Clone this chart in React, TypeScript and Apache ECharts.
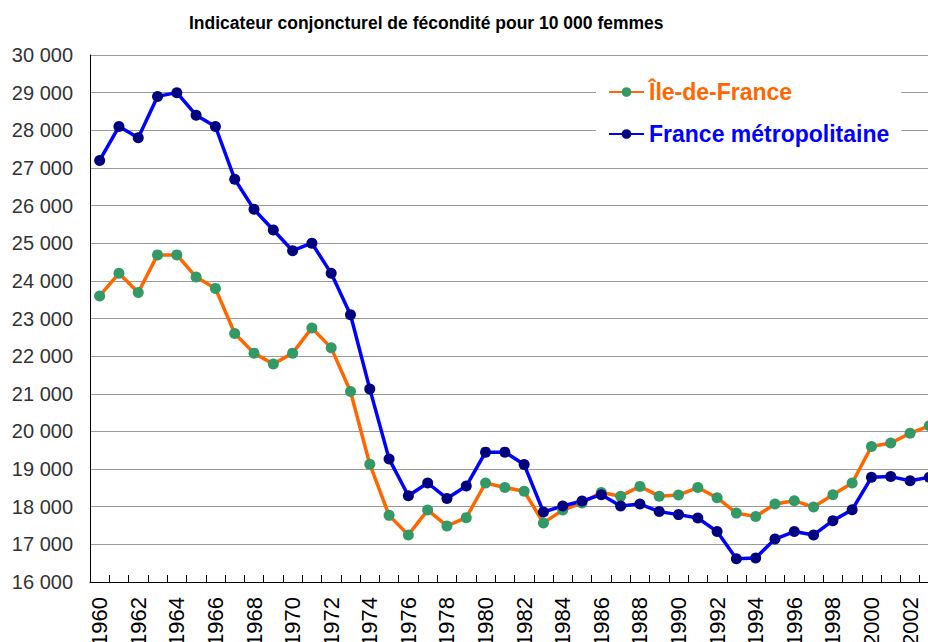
import React, { useEffect, useRef } from "react";
import * as echarts from "echarts";

const years = [
  "1960","1961","1962","1963","1964","1965","1966","1967","1968","1969",
  "1970","1971","1972","1973","1974","1975","1976","1977","1978","1979",
  "1980","1981","1982","1983","1984","1985","1986","1987","1988","1989",
  "1990","1991","1992","1993","1994","1995","1996","1997","1998","1999",
  "2000","2001","2002","2003",
];

const ileDeFrance = [
  23600, 24200, 23690, 24690, 24690, 24100, 23800, 22600, 22080, 21790,
  22080, 22750, 22220, 21060, 19130, 17770, 17250, 17910, 17490, 17710,
  18630, 18510, 18410, 17570, 17910, 18100, 18380, 18280, 18540, 18280,
  18310, 18510, 18240, 17830, 17740, 18070, 18160, 17990, 18320, 18630,
  19600, 19690, 19950, 20150,
];

const franceMetro = [
  27200, 28100, 27800, 28900, 29000, 28400, 28100, 26700, 25900, 25350,
  24800, 25000, 24200, 23100, 21130, 19270, 18290, 18630, 18220, 18550,
  19450, 19450, 19120, 17860, 18020, 18150, 18320, 18020, 18070, 17870,
  17790, 17700, 17340, 16620, 16640, 17140, 17340, 17250, 17630, 17920,
  18780, 18800, 18690, 18780,
];

const yMin = 16000;
const yMax = 30000;
const yStep = 1000;

const titleText = "Indicateur conjoncturel de fécondité pour 10 000 femmes";
const seriesNames = ["Île-de-France", "France métropolitaine"];

const FONT = "'Liberation Sans', Arial, sans-serif";

function fmt(v: number): string {
  const s = String(Math.round(v));
  return s.replace(/\B(?=(\d{3})+(?!\d))/g, " ");
}

export default function App() {
  const ref = useRef<HTMLDivElement>(null);

  useEffect(() => {
    if (!ref.current) return;
    const chart = echarts.init(ref.current, undefined, { renderer: "svg" });
    chart.setOption({
      animation: false,
      backgroundColor: "#ffffff",
      textStyle: { fontFamily: FONT },
      title: {
        text: titleText,
        left: 189,
        top: 14,
        padding: 0,
        textStyle: { fontFamily: FONT, fontSize: 17.5, fontWeight: "bold", color: "#000" },
      },
      legend: {
        orient: "vertical",
        left: 596,
        top: 70,
        padding: [10, 12, 10, 12],
        itemGap: 18,
        itemWidth: 35,
        itemHeight: 12,
        backgroundColor: "#ffffff",
        data: [
          { name: seriesNames[0], textStyle: { color: "#FF6600" } },
          { name: seriesNames[1], textStyle: { color: "#0000FF" } },
        ],
        textStyle: { fontFamily: FONT, fontSize: 23, fontWeight: "bold", lineHeight: 24 },
      },
      grid: {
        left: 90,
        top: 55,
        right: -11,
        bottom: 60,
        containLabel: false,
        outerBoundsMode: "none",
      },
      xAxis: {
        type: "category",
        data: years,
        boundaryGap: true,
        axisLine: { show: true, lineStyle: { color: "#000", width: 1 } },
        axisTick: { show: true, inside: true, length: 7, interval: 0, lineStyle: { color: "#000" } },
        axisLabel: {
          interval: 1,
          rotate: 90,
          margin: 15,
          fontSize: 22,
          color: "#000",
          fontFamily: FONT,
        },
        splitLine: { show: false },
      },
      yAxis: {
        type: "value",
        min: yMin,
        max: yMax,
        interval: yStep,
        axisLine: { show: true, lineStyle: { color: "#000", width: 1 } },
        axisTick: { show: false },
        axisLabel: {
          fontSize: 20,
          color: "#333",
          margin: 17,
          fontFamily: FONT,
          formatter: (v: number) => fmt(v),
        },
        splitLine: { show: true, lineStyle: { color: "#999", width: 1 } },
      },
      series: [
        {
          name: seriesNames[0],
          type: "line",
          data: ileDeFrance,
          symbol: "circle",
          symbolSize: 11,
          lineStyle: { color: "#FF6600", width: 3.5 },
          itemStyle: { color: "#339966" },
        },
        {
          name: seriesNames[1],
          type: "line",
          data: franceMetro,
          symbol: "circle",
          symbolSize: 11,
          lineStyle: { color: "#0000FF", width: 3.5 },
          itemStyle: { color: "#000080" },
        },
      ],
    });
    return () => chart.dispose();
  }, []);

  return (
    <div
      ref={ref}
      style={{ position: "fixed", left: 0, top: 0, width: 928, height: 642 }}
    />
  );
}
